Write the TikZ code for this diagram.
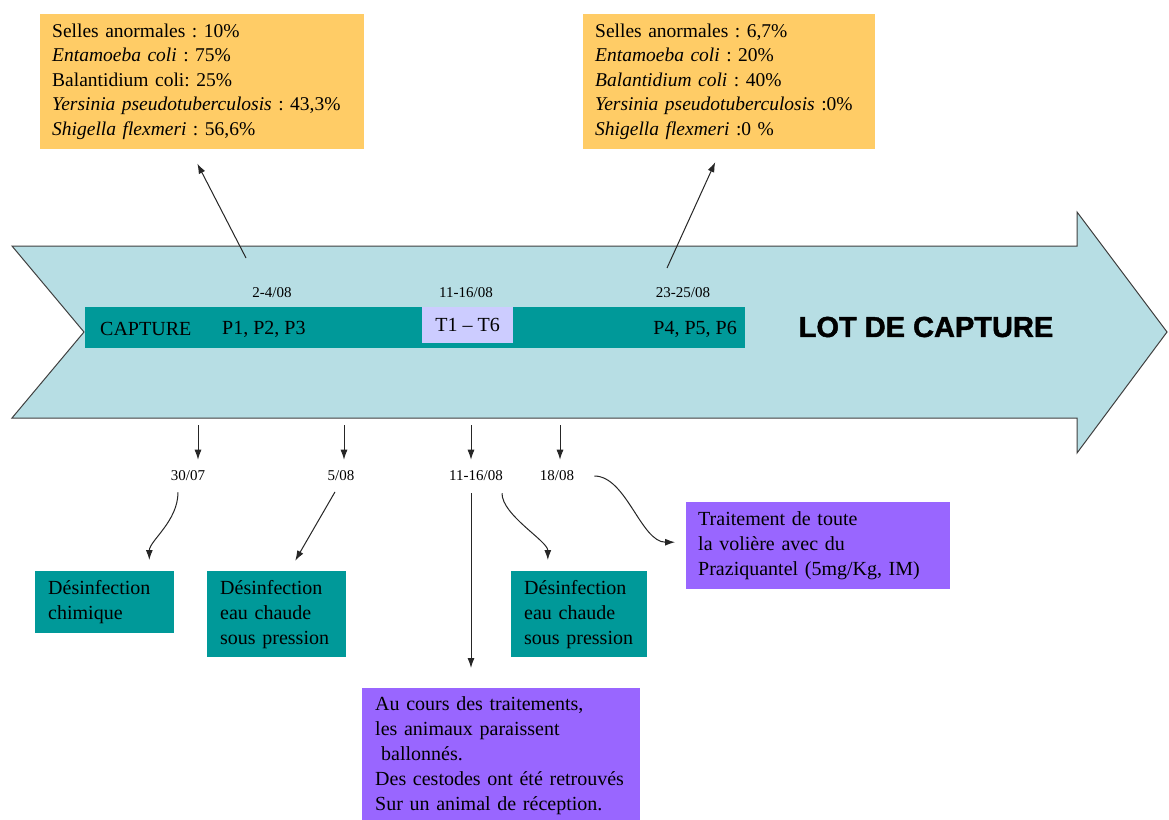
\documentclass[tikz,border=0pt]{standalone}
\usepackage{fontspec}
\setmainfont{Liberation Serif}
\newfontfamily\lotfont[BoldFeatures={FakeBold=1.5}]{Liberation Sans}
\usetikzlibrary{arrows.meta,calc}
\definecolor{boxorange}{RGB}{255,204,102}
\definecolor{arrowblue}{RGB}{183,222,228}
\definecolor{bandteal}{RGB}{0,153,153}
\definecolor{tlavender}{RGB}{204,204,255}
\definecolor{notepurple}{RGB}{153,102,255}
\AtBeginDocument{\frenchspacing}

\begin{document}
\begin{tikzpicture}[x=1pt, y=-1pt,
  conn/.style={-{Latex[length=10pt,width=7pt]}, line width=1pt, black!85},
  resbox/.style={fill=boxorange, anchor=north west, align=left, inner xsep=12pt, font=\fontsize{19.5}{24.6}\selectfont},
  disbox/.style={fill=bandteal, anchor=north west, align=left, inner xsep=13pt, font=\fontsize{20}{25}\selectfont},
  notebox/.style={fill=notepurple, anchor=north west, align=left, font=\fontsize{20}{25}\selectfont},
  bandtext/.style={inner sep=0pt, font=\fontsize{20}{24}\selectfont},
  datelbl/.style={inner sep=2pt, font=\fontsize{15}{18}\selectfont}]
\fill[white] (0,0) rectangle (1169,819);
\useasboundingbox (0,0) rectangle (1169,819);

% the big arrow
\filldraw[fill=arrowblue, draw=black!75, line width=1pt] (12,246) -- (1077,246) -- (1077,212) -- (1167,332) -- (1077,453) -- (1077,418) -- (12,418) -- (84,332) -- cycle;

\node[fill=bandteal, minimum width=660, minimum height=41, inner sep=0pt, anchor=north west] (band) at (85,307) {};
\node[fill=tlavender, minimum width=91, minimum height=36, inner sep=0pt, anchor=north west, font=\fontsize{20}{24}\selectfont] (ttt) at (422,307) {T1 – T6};
\node[bandtext, anchor=west] (capt) at (100,329) {CAPTURE};
\node[bandtext, anchor=west] (pun) at (222,329) {P1, P2, P3};
\node[bandtext, anchor=east] (pqua) at (737,329) {P4, P5, P6};
\node[font=\lotfont\bfseries\fontsize{29}{36}\selectfont] (lot) at (926,327) {LOT DE CAPTURE};

\node[datelbl] (dtop1) at (272,293) {2-4/08};
\node[datelbl] (dtop2) at (466,293) {11-16/08};
\node[datelbl] (dtop3) at (683,293) {23-25/08};

% results
\node[resbox, text width=300, minimum height=135] (res1) at (40,14) {Selles anormales : 10\%\\ \textit{Entamoeba coli} : 75\%\\ Balantidium coli: 25\%\\ \textit{Yersinia pseudotuberculosis} : 43,3\%\\ \textit{Shigella flexmeri} : 56,6\%};
\node[resbox, text width=268, minimum height=135] (res2) at (583,14) {Selles anormales : 6,7\%\\ \textit{Entamoeba coli} : 20\%\\ \textit{Balantidium coli} : 40\%\\ \textit{Yersinia pseudotuberculosis} :0\%\\ \textit{Shigella flexmeri} :0 \%};

\coordinate (u1) at (246,258);
\coordinate (u2) at (667,268);
\draw[conn, shorten >=16pt] (u1) -- (190,0 |- res1.south);
\draw[conn, shorten >=14pt] (u2) -- (721,0 |- res2.south);

% dates under the arrow
\node[datelbl] (l3007) at (188,476) {30/07};
\node[datelbl] (l508) at (341,476) {5/08};
\node[datelbl] (l1116) at (476,476) {11-16/08};
\node[datelbl] (l1808) at (557,476) {18/08};

\foreach \x/\lbl in {198/l3007, 344/l508, 471/l1116, 560/l1808}
  \draw[conn, shorten >=9pt] (\x,425) -- (\x,0 |- \lbl.north);

% actions
\node[disbox, text width=113, minimum height=62] (dchim) at (35,571) {Désinfection\\chimique};
\node[disbox, text width=113, minimum height=86] (dchaud1) at (207,571) {Désinfection\\eau chaude\\sous pression};
\node[disbox, text width=110, minimum height=86] (dchaud2) at (511,571) {Désinfection\\eau chaude\\sous pression};
\node[notebox, inner xsep=12pt, text width=240, minimum height=87] (trait) at (686,502) {Traitement de toute\\la volière avec du\\Praziquantel (5mg/Kg, IM)};
\node[notebox, inner xsep=13pt, inner ysep=8pt, text width=252] (cours) at (362,688) {Au cours des traitements,\\les animaux paraissent\\\hspace*{0.3em}ballonnés.\\Des cestodes ont été retrouvés\\Sur un animal de réception.};

\coordinate (lsrc) at ([xshift=-5pt]l1116.south);
\draw[conn, shorten <=9pt, shorten >=11pt] ([xshift=-10pt]l3007.south) .. controls +(0,38) and +(0,-30) .. ($(dchim.north west)!0.82!(dchim.north east)$);
\draw[conn, shorten <=10pt, shorten >=12pt] ([xshift=-1pt]l508.south) -- ($(dchaud1.north west)!0.59!(dchaud1.north east)$);
\draw[conn, shorten <=10pt, shorten >=20pt] (lsrc) -- (lsrc |- cours.north);
\draw[conn, shorten <=10pt, shorten >=11pt] ([xshift=26pt]l1116.south) .. controls +(0,32) and +(0,-30) .. ($(dchaud2.north west)!0.27!(dchaud2.north east)$);
\draw[conn, shorten <=18pt, shorten >=11pt] (l1808.east) .. controls +(50,0) and +(-45,0) .. ($(trait.north west)!0.46!(trait.south west)$);

\end{tikzpicture}
\end{document}
